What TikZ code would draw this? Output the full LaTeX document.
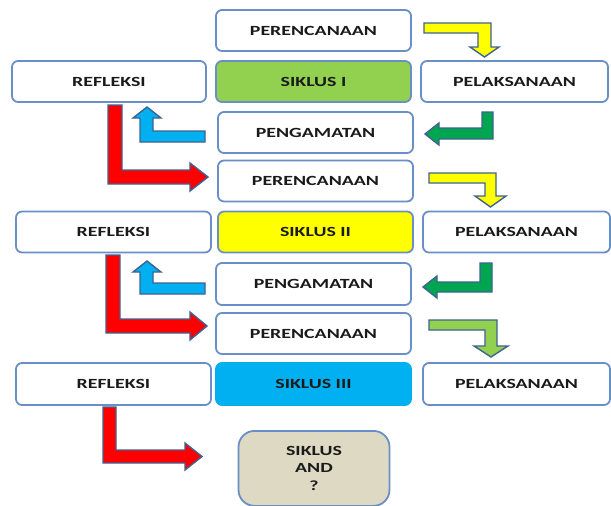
\documentclass[tikz,border=0pt]{standalone}
\usepackage{fontspec}
\newfontfamily\boxfont{Carlito}[FakeStretch=1.42]
\definecolor{boxline}{HTML}{6A8FC6}
\definecolor{arrline}{HTML}{3E6391}
\definecolor{cgreen}{HTML}{92D050}
\definecolor{cyellow}{HTML}{FFFF00}
\definecolor{ccyan}{HTML}{00B0F0}
\definecolor{cdgreen}{HTML}{00A550}
\definecolor{cred}{HTML}{FF0000}
\definecolor{ctan}{HTML}{DDD9C3}
\definecolor{ctext}{HTML}{1A1A1A}
\tikzset{
  box/.style={draw=boxline, line width=1.8pt, rounded corners=6pt, fill=white,
    minimum width=195pt, minimum height=41pt, inner sep=0pt, text=ctext,
    font=\boxfont\bfseries\fontsize{14}{17.5}\selectfont},
  blockarrow/.style={draw=arrline, line width=1.4pt, line join=miter}
}
\begin{document}
\begin{tikzpicture}[x=1pt,y=-1pt]
\fill[white] (0,0) rectangle (611,506);
\useasboundingbox (0,0) rectangle (611,506);
% cycle 1
\node[box] (p1) at (313.5,30.5) {PERENCANAAN};
\node[box, minimum width=194pt] (r1) at (109,81.5) {REFLEKSI};
\node[box, fill=cgreen] (s1) at (313.5,81.5) {SIKLUS I};
\node[box, minimum width=187pt] (l1) at (514.5,81.5) {PELAKSANAAN};
\node[box] (o1) at (315.5,132.5) {PENGAMATAN};
% cycle 2
\node[box] (p2) at (315.5,181) {PERENCANAAN};
\node[box] (r2) at (113.5,232) {REFLEKSI};
\node[box, fill=cyellow] (s2) at (315.5,232) {SIKLUS II};
\node[box, minimum width=187pt] (l2) at (516.5,232) {PELAKSANAAN};
\node[box, minimum height=42pt] (o2) at (313.5,284) {PENGAMATAN};
% cycle 3
\node[box] (p3) at (313.5,333.5) {PERENCANAAN};
\node[box, minimum height=42pt] (r3) at (113.5,384) {REFLEKSI};
\node[box, minimum height=42pt, fill=ccyan, draw=ccyan] (s3) at (313.5,384) {SIKLUS III};
\node[box, minimum height=42pt, minimum width=187pt] (l3) at (516.5,384) {PELAKSANAAN};
\node[box, minimum width=151pt, minimum height=75pt, rounded corners=16pt, fill=ctan,
  align=center, anchor=north] (sa) at (314,430) {SIKLUS\\AND\\?};
% arrows cycle 1
\filldraw[blockarrow, fill=cyellow] (424,23)--(491,23)--(491,47)--(499,47)--(484.5,57)--(470,47)--(478,47)--(478,33)--(424,33)--cycle;
\filldraw[blockarrow, fill=cdgreen] (482,112)--(493,112)--(493,139)--(439,139)--(439,145)--(425,134)--(439,123)--(439,128)--(482,128)--cycle;
\filldraw[blockarrow, fill=ccyan] (205,131)--(205,142)--(140,142)--(140,118)--(133,118)--(147,107)--(161,118)--(153,118)--(153,131)--cycle;
\filldraw[blockarrow, fill=cred] (108,105)--(122,105)--(122,170)--(190,170)--(190,163)--(208,177)--(190,191)--(190,184)--(108,184)--cycle;
% arrows cycle 2
\filldraw[blockarrow, fill=cyellow] (429,173)--(496,173)--(496,196)--(506,196)--(490.5,207)--(475,196)--(485,196)--(485,183)--(429,183)--cycle;
\filldraw[blockarrow, fill=cdgreen] (480,263)--(492,263)--(492,292)--(437,292)--(437,298)--(423,287)--(437,276)--(437,282)--(480,282)--cycle;
\filldraw[blockarrow, fill=ccyan] (205,283)--(205,294)--(140,294)--(140,272)--(133,272)--(147,261)--(161,272)--(153,272)--(153,283)--cycle;
\filldraw[blockarrow, fill=cred] (106,255)--(120,255)--(120,319)--(190,319)--(190,312)--(207,326)--(190,340)--(190,333)--(106,333)--cycle;
% arrows cycle 3
\filldraw[blockarrow, fill=cgreen] (429,320)--(497,320)--(497,346)--(508,346)--(491,357)--(474,346)--(485,346)--(485,330)--(429,330)--cycle;
\filldraw[blockarrow, fill=cred] (103,407)--(116,407)--(116,450)--(185,450)--(185,443)--(202,456.5)--(185,470)--(185,463)--(103,463)--cycle;
\end{tikzpicture}
\end{document}
